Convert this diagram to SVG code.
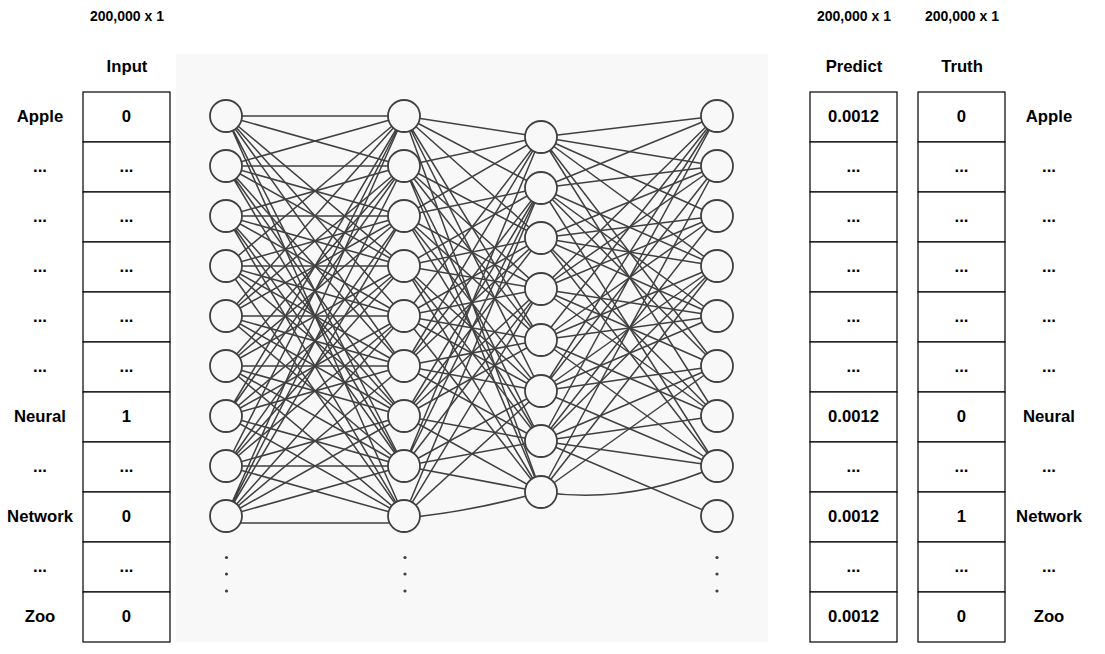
<svg xmlns="http://www.w3.org/2000/svg" width="1105" height="654" viewBox="0 0 1105 654">
<style>
.t{font-family:"Liberation Sans",Arial,sans-serif;font-weight:bold;font-size:16.7px;fill:#000;text-anchor:middle}
.s{font-size:14px}
.cell{fill:#fff;stroke:#000;stroke-width:1.2}
.e{fill:none;stroke:#404040;stroke-width:1.5}
.n{fill:#f8f8f8;stroke:#404040;stroke-width:1.8}
.d{fill:#404040}
</style>
<rect width="1105" height="654" fill="#fff"/>
<g id="headers">
<text class="t s" x="127" y="21">200,000 x 1</text>
<text class="t s" x="854" y="21">200,000 x 1</text>
<text class="t s" x="962" y="21">200,000 x 1</text>
<text class="t" x="127" y="72">Input</text>
<text class="t" x="854" y="72">Predict</text>
<text class="t" x="962" y="72">Truth</text>
</g>
<g id="left-labels">
<text class="t" x="40" y="122">Apple</text>
<text class="t" x="40" y="172">...</text>
<text class="t" x="40" y="222">...</text>
<text class="t" x="40" y="272">...</text>
<text class="t" x="40" y="322">...</text>
<text class="t" x="40" y="372">...</text>
<text class="t" x="40" y="422">Neural</text>
<text class="t" x="40" y="472">...</text>
<text class="t" x="40" y="522">Network</text>
<text class="t" x="40" y="572">...</text>
<text class="t" x="40" y="622">Zoo</text>
</g>
<g id="input-column">
<rect class="cell" x="83" y="92" width="87" height="50"/><text class="t" x="126.5" y="122">0</text>
<rect class="cell" x="83" y="142" width="87" height="50"/><text class="t" x="126.5" y="172">...</text>
<rect class="cell" x="83" y="192" width="87" height="50"/><text class="t" x="126.5" y="222">...</text>
<rect class="cell" x="83" y="242" width="87" height="50"/><text class="t" x="126.5" y="272">...</text>
<rect class="cell" x="83" y="292" width="87" height="50"/><text class="t" x="126.5" y="322">...</text>
<rect class="cell" x="83" y="342" width="87" height="50"/><text class="t" x="126.5" y="372">...</text>
<rect class="cell" x="83" y="392" width="87" height="50"/><text class="t" x="126.5" y="422">1</text>
<rect class="cell" x="83" y="442" width="87" height="50"/><text class="t" x="126.5" y="472">...</text>
<rect class="cell" x="83" y="492" width="87" height="50"/><text class="t" x="126.5" y="522">0</text>
<rect class="cell" x="83" y="542" width="87" height="50"/><text class="t" x="126.5" y="572">...</text>
<rect class="cell" x="83" y="592" width="87" height="50"/><text class="t" x="126.5" y="622">0</text>
</g>
<rect x="176" y="54" width="592" height="588" fill="#f8f8f8"/>
<g id="connectors" class="e">
<path d="M226 116L404 116M226 116L404 166M226 116L404 266M226 116L404 316M226 116L404 366M226 116L404 466M226 116L404 516"/>
<path d="M226 166L404 116M226 166L404 166M226 166L404 216M226 166L404 266M226 166L404 366M226 166L404 416M226 166L404 466"/>
<path d="M226 216L404 166M226 216L404 216M226 216L404 266M226 216L404 316M226 216L404 416M226 216L404 466M226 216L404 516"/>
<path d="M226 266L404 116M226 266L404 216M226 266L404 266M226 266L404 316M226 266L404 366M226 266L404 416M226 266L404 516"/>
<path d="M226 316L404 116M226 316L404 166M226 316L404 216M226 316L404 316M226 316L404 366M226 316L404 416M226 316L404 466"/>
<path d="M226 366L404 166M226 366L404 216M226 366L404 266M226 366L404 366M226 366L404 416M226 366L404 466M226 366L404 516"/>
<path d="M226 416L404 116M226 416L404 166M226 416L404 266M226 416L404 316M226 416L404 366M226 416L404 466M226 416L404 516"/>
<path d="M226 466L404 116M226 466L404 216M226 466L404 266M226 466L404 316M226 466L404 416M226 466L404 466M226 466L404 516"/>
<path d="M226 516L404 116M226 516L404 166M226 516L404 216M226 516L404 316M226 516L404 366M226 516L404 416M226 516L404 466M226 523L404 523"/>
<path d="M404 116L541 137M404 116L541 188M404 116L541 238M404 116L541 340M404 116L541 391M404 116L541 492"/>
<path d="M404 166L541 137M404 166L541 238M404 166L541 289M404 166L541 340M404 166L541 441M404 166L541 492"/>
<path d="M404 216L541 137M404 216L541 188M404 216L541 289M404 216L541 340M404 216L541 391M404 216L541 441"/>
<path d="M404 266L541 188M404 266L541 238M404 266L541 289M404 266L541 391M404 266L541 441M404 266L541 492"/>
<path d="M404 316L541 137M404 316L541 238M404 316L541 289M404 316L541 340M404 316L541 391M404 316L541 492"/>
<path d="M404 366L541 137M404 366L541 188M404 366L541 238M404 366L541 340M404 366L541 391M404 366L541 441"/>
<path d="M404 416L541 188M404 416L541 238M404 416L541 289M404 416L541 340M404 416L541 441M404 416L541 492"/>
<path d="M404 466L541 137M404 466L541 188M404 466L541 289M404 466L541 391M404 466L541 441M404 466L541 492"/>
<path d="M404 516L541 188M404 516L541 289M404 516L541 391M404 518Q470 512 541 492"/>
<path d="M541 137L717 116M541 137L717 166M541 137L717 216M541 137L717 266M541 137L717 366M541 137L717 416"/>
<path d="M541 188L717 116M541 188L717 166M541 188L717 266M541 188L717 316M541 188L717 366M541 188L717 466"/>
<path d="M541 238L717 166M541 238L717 216M541 238L717 266M541 238L717 316M541 238L717 416M541 238L717 466"/>
<path d="M541 289L717 116M541 289L717 166M541 289L717 216M541 289L717 316M541 289L717 366M541 289L717 416"/>
<path d="M541 340L717 116M541 340L717 216M541 340L717 266M541 340L717 316M541 340L717 416M541 340L717 466"/>
<path d="M541 391L717 116M541 391L717 166M541 391L717 266M541 391L717 316M541 391L717 366M541 391L717 466"/>
<path d="M541 441L717 116M541 441L717 216M541 441L717 266M541 441L717 366M541 441L717 416M541 441L717 466M541 441L717 516"/>
<path d="M541 492L717 166M541 492L717 266M541 492L717 366M541 492Q630 505 717 466"/>
</g>
<g id="layer1">
<circle id="n1-1" class="n" cx="226" cy="116" r="16"/>
<circle id="n1-2" class="n" cx="226" cy="166" r="16"/>
<circle id="n1-3" class="n" cx="226" cy="216" r="16"/>
<circle id="n1-4" class="n" cx="226" cy="266" r="16"/>
<circle id="n1-5" class="n" cx="226" cy="316" r="16"/>
<circle id="n1-6" class="n" cx="226" cy="366" r="16"/>
<circle id="n1-7" class="n" cx="226" cy="416" r="16"/>
<circle id="n1-8" class="n" cx="226" cy="466" r="16"/>
<circle id="n1-9" class="n" cx="226" cy="516" r="16"/>
<circle class="d" cx="226.5" cy="557.5" r="1.6"/><circle class="d" cx="226.5" cy="574" r="1.6"/><circle class="d" cx="226.5" cy="591" r="1.6"/>
</g>
<g id="layer2">
<circle id="n2-1" class="n" cx="404" cy="116" r="16"/>
<circle id="n2-2" class="n" cx="404" cy="166" r="16"/>
<circle id="n2-3" class="n" cx="404" cy="216" r="16"/>
<circle id="n2-4" class="n" cx="404" cy="266" r="16"/>
<circle id="n2-5" class="n" cx="404" cy="316" r="16"/>
<circle id="n2-6" class="n" cx="404" cy="366" r="16"/>
<circle id="n2-7" class="n" cx="404" cy="416" r="16"/>
<circle id="n2-8" class="n" cx="404" cy="466" r="16"/>
<circle id="n2-9" class="n" cx="404" cy="516" r="16"/>
<circle class="d" cx="405" cy="557.5" r="1.6"/><circle class="d" cx="405" cy="574" r="1.6"/><circle class="d" cx="405" cy="591" r="1.6"/>
</g>
<g id="layer3">
<circle id="n3-1" class="n" cx="541" cy="137" r="16"/>
<circle id="n3-2" class="n" cx="541" cy="188" r="16"/>
<circle id="n3-3" class="n" cx="541" cy="238" r="16"/>
<circle id="n3-4" class="n" cx="541" cy="289" r="16"/>
<circle id="n3-5" class="n" cx="541" cy="340" r="16"/>
<circle id="n3-6" class="n" cx="541" cy="391" r="16"/>
<circle id="n3-7" class="n" cx="541" cy="441" r="16"/>
<circle id="n3-8" class="n" cx="541" cy="492" r="16"/>
</g>
<g id="layer4">
<circle id="n4-1" class="n" cx="717" cy="116" r="16"/>
<circle id="n4-2" class="n" cx="717" cy="166" r="16"/>
<circle id="n4-3" class="n" cx="717" cy="216" r="16"/>
<circle id="n4-4" class="n" cx="717" cy="266" r="16"/>
<circle id="n4-5" class="n" cx="717" cy="316" r="16"/>
<circle id="n4-6" class="n" cx="717" cy="366" r="16"/>
<circle id="n4-7" class="n" cx="717" cy="416" r="16"/>
<circle id="n4-8" class="n" cx="717" cy="466" r="16"/>
<circle id="n4-9" class="n" cx="717" cy="516" r="16"/>
<circle class="d" cx="717" cy="557.5" r="1.6"/><circle class="d" cx="717" cy="574" r="1.6"/><circle class="d" cx="717" cy="591" r="1.6"/>
</g>
<g id="predict-column">
<rect class="cell" x="810" y="92" width="87" height="50"/><text class="t" x="853.5" y="122">0.0012</text>
<rect class="cell" x="810" y="142" width="87" height="50"/><text class="t" x="853.5" y="172">...</text>
<rect class="cell" x="810" y="192" width="87" height="50"/><text class="t" x="853.5" y="222">...</text>
<rect class="cell" x="810" y="242" width="87" height="50"/><text class="t" x="853.5" y="272">...</text>
<rect class="cell" x="810" y="292" width="87" height="50"/><text class="t" x="853.5" y="322">...</text>
<rect class="cell" x="810" y="342" width="87" height="50"/><text class="t" x="853.5" y="372">...</text>
<rect class="cell" x="810" y="392" width="87" height="50"/><text class="t" x="853.5" y="422">0.0012</text>
<rect class="cell" x="810" y="442" width="87" height="50"/><text class="t" x="853.5" y="472">...</text>
<rect class="cell" x="810" y="492" width="87" height="50"/><text class="t" x="853.5" y="522">0.0012</text>
<rect class="cell" x="810" y="542" width="87" height="50"/><text class="t" x="853.5" y="572">...</text>
<rect class="cell" x="810" y="592" width="87" height="50"/><text class="t" x="853.5" y="622">0.0012</text>
</g>
<g id="truth-column">
<rect class="cell" x="918" y="92" width="87" height="50"/><text class="t" x="961.5" y="122">0</text>
<rect class="cell" x="918" y="142" width="87" height="50"/><text class="t" x="961.5" y="172">...</text>
<rect class="cell" x="918" y="192" width="87" height="50"/><text class="t" x="961.5" y="222">...</text>
<rect class="cell" x="918" y="242" width="87" height="50"/><text class="t" x="961.5" y="272">...</text>
<rect class="cell" x="918" y="292" width="87" height="50"/><text class="t" x="961.5" y="322">...</text>
<rect class="cell" x="918" y="342" width="87" height="50"/><text class="t" x="961.5" y="372">...</text>
<rect class="cell" x="918" y="392" width="87" height="50"/><text class="t" x="961.5" y="422">0</text>
<rect class="cell" x="918" y="442" width="87" height="50"/><text class="t" x="961.5" y="472">...</text>
<rect class="cell" x="918" y="492" width="87" height="50"/><text class="t" x="961.5" y="522">1</text>
<rect class="cell" x="918" y="542" width="87" height="50"/><text class="t" x="961.5" y="572">...</text>
<rect class="cell" x="918" y="592" width="87" height="50"/><text class="t" x="961.5" y="622">0</text>
</g>
<g id="right-labels">
<text class="t" x="1049" y="122">Apple</text>
<text class="t" x="1049" y="172">...</text>
<text class="t" x="1049" y="222">...</text>
<text class="t" x="1049" y="272">...</text>
<text class="t" x="1049" y="322">...</text>
<text class="t" x="1049" y="372">...</text>
<text class="t" x="1049" y="422">Neural</text>
<text class="t" x="1049" y="472">...</text>
<text class="t" x="1049" y="522">Network</text>
<text class="t" x="1049" y="572">...</text>
<text class="t" x="1049" y="622">Zoo</text>
</g>
</svg>
